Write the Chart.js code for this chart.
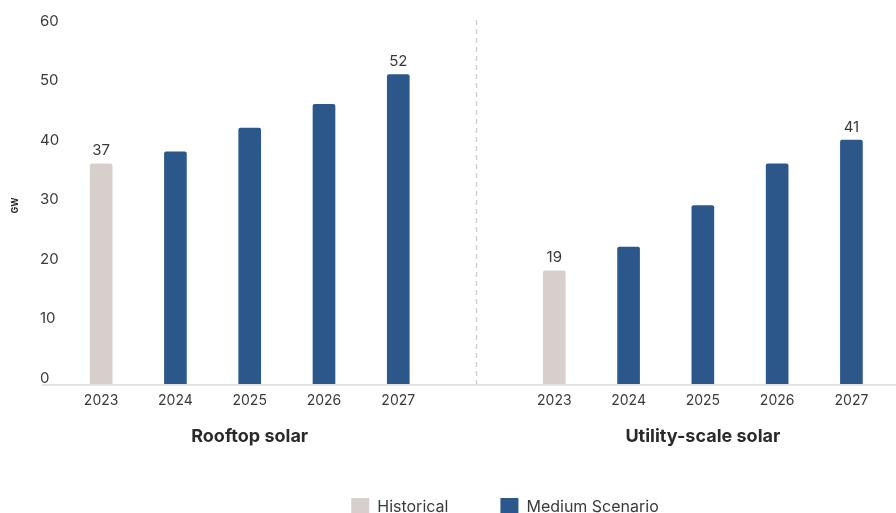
<!DOCTYPE html>
<html>
<head>
<meta charset="utf-8">
<script src="https://cdn.jsdelivr.net/npm/chart.js@4/dist/chart.umd.min.js"></script>
<style>
  html, body { margin: 0; padding: 0; background: #ffffff; overflow: hidden; }
  #wrap { position: relative; width: 896px; height: 526px; }
</style>
</head>
<body>
<div id="wrap"><canvas id="chart"></canvas></div>
<script>
// Solar capacity additions, GW
const years = ['2023', '2024', '2025', '2026', '2027'];
const groupNames = ['Rooftop solar', 'Utility-scale solar'];
const rooftopGW = [37, 39, 43, 47, 52];
const utilityGW = [19, 23, 30, 37, 41];
const historicalYears = ['2023'];
const labelledYears = ['2023', '2027'];
const seriesNames = ['Historical', 'Medium Scenario'];
const yTicks = [0, 10, 20, 30, 40, 50, 60];

const GROUP_STEP = 6.1;          // distance between the first bars of the two groups
const FONT = 'Inter, "Liberation Sans", sans-serif';
const TEXT = '#3a3a3a';
const COLORS = { hist: '#d7cfcc', medium: '#2b578a' };

// Place every bar on a shared linear x scale: group g, year i -> g * GROUP_STEP + i
const groupValues = [rooftopGW, utilityGW];
const points = [];
groupValues.forEach((vals, g) => vals.forEach((v, i) => {
  points.push({ x: g * GROUP_STEP + i, y: v, year: years[i], group: g });
}));
const histPoints = points.filter(p => historicalYears.includes(p.year));
const medPoints = points.filter(p => !historicalYears.includes(p.year));
const tickPoints = points.slice().sort((a, b) => a.x - b.x);

const overlay = {
  id: 'overlay',
  afterLayout(chart) {
    // legend sits to the right of centre
    chart.legend.left += 37;
    chart.legend.right += 37;
  },
  beforeDatasetsDraw(chart) {
    const { ctx, scales: { x, y } } = chart;
    const base = y.getPixelForValue(0);
    ctx.save();
    // divider between the two groups
    const mid = (years.length - 1 + GROUP_STEP) / 2;
    const dx = Math.round(x.getPixelForValue(mid)) + 0.5;
    ctx.strokeStyle = '#d9cdcd';
    ctx.lineWidth = 1.5;
    ctx.setLineDash([5, 4]);
    ctx.beginPath();
    ctx.moveTo(dx, y.getPixelForValue(60) - 7);
    ctx.lineTo(dx, base);
    ctx.stroke();
    ctx.setLineDash([]);
    // baseline
    ctx.strokeStyle = '#e7e2e2';
    ctx.lineWidth = 2;
    ctx.beginPath();
    ctx.moveTo(42, base + 1);
    ctx.lineTo(chart.width, base + 1);
    ctx.stroke();
    ctx.restore();
  },
  afterDatasetsDraw(chart) {
    const { ctx, scales: { x } } = chart;
    ctx.save();
    ctx.fillStyle = TEXT;
    ctx.textAlign = 'center';
    ctx.textBaseline = 'middle';
    ctx.font = '15px ' + FONT;
    chart.data.datasets.forEach((ds, d) => {
      const meta = chart.getDatasetMeta(d);
      ds.data.forEach((p, j) => {
        if (!labelledYears.includes(p.year)) return;
        const el = meta.data[j];
        ctx.fillText(String(p.y), el.x, el.y - 13);
      });
    });
    // group titles under the year ticks
    ctx.fillStyle = '#2a2a2a';
    ctx.font = 'bold 18px ' + FONT;
    groupNames.forEach((name, g) => {
      const first = x.getPixelForValue(g * GROUP_STEP);
      const last = x.getPixelForValue(g * GROUP_STEP + years.length - 1);
      ctx.fillText(name, (first + last) / 2, 437);
    });
    ctx.restore();
  }
};

new Chart(document.getElementById('chart'), {
  type: 'bar',
  data: {
    datasets: [
      { label: seriesNames[0], data: histPoints, backgroundColor: COLORS.hist },
      { label: seriesNames[1], data: medPoints, backgroundColor: COLORS.medium }
    ]
  },
  options: {
    responsive: true,
    maintainAspectRatio: false,
    animation: false,
    datasets: { bar: { barThickness: 22, borderRadius: 2, grouped: false } },
    layout: { padding: { top: 27, left: 40, right: 0, bottom: 0 } },
    scales: {
      x: {
        type: 'linear',
        offset: false,
        min: -0.5,
        max: 10.7,
        grid: { display: false, drawTicks: false },
        border: { display: false },
        afterBuildTicks(axis) { axis.ticks = tickPoints.map(p => ({ value: p.x })); },
        afterFit(scale) {
          scale.height = 62;
          scale.paddingLeft = 0;
          scale.paddingRight = 0;
        },
        ticks: {
          autoSkip: false,
          maxRotation: 0,
          padding: 8,
          color: TEXT,
          font: { family: FONT, size: 14 },
          callback: (v, i) => tickPoints[i] ? tickPoints[i].year : ''
        }
      },
      y: {
        min: 0,
        max: 60,
        grid: { display: false, drawTicks: false },
        border: { display: false },
        afterBuildTicks(axis) { axis.ticks = yTicks.map(v => ({ value: v })); },
        afterFit(scale) { scale.width = 24; },
        title: {
          display: true,
          text: 'GW',
          color: '#222',
          font: { family: FONT, size: 9, weight: 'bold' },
          padding: { top: -30, bottom: 0 }
        },
        ticks: {
          crossAlign: 'far',
          labelOffset: -6,
          color: TEXT,
          font: { family: FONT, size: 15 }
        }
      }
    },
    plugins: {
      tooltip: { enabled: false },
      legend: {
        position: 'bottom',
        labels: {
          boxWidth: 18,
          boxHeight: 18,
          padding: 52,
          color: TEXT,
          font: { family: FONT, size: 16 }
        }
      }
    }
  },
  plugins: [overlay]
});
</script>
</body>
</html>
